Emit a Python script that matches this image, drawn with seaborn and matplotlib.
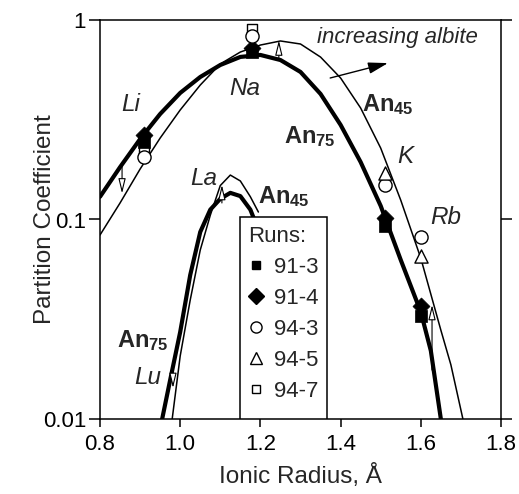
import matplotlib
matplotlib.use('Agg')
import matplotlib.pyplot as plt
import seaborn as sns
import pandas as pd
from matplotlib.lines import Line2D
from matplotlib.patches import Rectangle
from matplotlib.ticker import NullLocator, FixedLocator, FixedFormatter

# ---------------- data ----------------
# fitted lattice-strain curves (monovalent and trivalent), An75 thick, An45 thin
r_mono_75 = [0.80, 0.85, 0.90, 0.95, 1.00, 1.05, 1.10, 1.15, 1.20, 1.25, 1.30, 1.35,
             1.40, 1.45, 1.50, 1.55, 1.60, 1.625, 1.65]
d_mono_75 = [0.130, 0.183, 0.253, 0.338, 0.431, 0.518, 0.595, 0.653, 0.668, 0.630, 0.549,
             0.426, 0.298, 0.194, 0.117, 0.0627, 0.0344, 0.022, 0.0100]
r_mono_45 = [0.80, 0.85, 0.90, 0.95, 1.00, 1.05, 1.10, 1.15, 1.20, 1.25, 1.30, 1.35,
             1.40, 1.45, 1.50, 1.55, 1.60, 1.65, 1.675, 1.705]
d_mono_45 = [0.0836, 0.121, 0.179, 0.256, 0.354, 0.472, 0.602, 0.691, 0.749, 0.785, 0.758,
             0.652, 0.512, 0.362, 0.228, 0.125, 0.064, 0.0279, 0.0187, 0.0100]
r_tri_75 = [0.955, 0.975, 1.00, 1.025, 1.05, 1.075, 1.10, 1.125, 1.15, 1.175, 1.19]
d_tri_75 = [0.0100, 0.0157, 0.0273, 0.0527, 0.0866, 0.112, 0.127, 0.136, 0.131, 0.112, 0.094]
r_tri_45 = [0.98, 1.00, 1.025, 1.05, 1.075, 1.10, 1.125, 1.15, 1.175, 1.195]
d_tri_45 = [0.0100, 0.0207, 0.0395, 0.0703, 0.105, 0.148, 0.167, 0.156, 0.130, 0.109]

# measured partition coefficients per run (ions Li, Na, K, Rb)
r_91_3 = [0.91, 1.18, 1.51, 1.60]
d_91_3 = [0.245, 0.69, 0.093, 0.033]
r_91_4 = [0.91, 1.18, 1.51, 1.60]
d_91_4 = [0.265, 0.72, 0.102, 0.037]
r_94_3 = [0.91, 1.18, 1.51, 1.60]
d_94_3 = [0.206, 0.83, 0.149, 0.082]
r_94_5 = [1.51, 1.60]
d_94_5 = [0.171, 0.066]
r_94_7 = [0.91, 1.18]
d_94_7 = [0.223, 0.90]

# "increasing albite" shift arrows: (x, from, to)
shift_x = [0.855, 1.246, 1.104, 0.982, 1.628]
shift_from = [0.188, 0.630, 0.121, 0.0191, 0.0176]
shift_to = [0.135, 0.790, 0.149, 0.0143, 0.0373]

element_labels = ['Li', 'Na', 'La', 'K', 'Rb', 'Lu']
element_x = [0.877, 1.162, 1.059, 1.561, 1.663, 0.920]
element_y = [0.375, 0.456, 0.161, 0.208, 0.102, 0.0161]

comp_labels = ['45', '75', '45', '75']
comp_x = [1.518, 1.324, 1.259, 0.907]
comp_y = [0.379, 0.259, 0.130, 0.0246]

xticks = [0.8, 1.0, 1.2, 1.4, 1.6, 1.8]
xtick_labels = ['0.8', '1.0', '1.2', '1.4', '1.6', '1.8']
yticks = [0.01, 0.1, 1]
ytick_labels = ['0.01', '0.1', '1']

# ---------------- styling ----------------
sns.set_style('ticks')
plt.rcParams['font.family'] = ['Liberation Sans', 'DejaVu Sans']
plt.rcParams['mathtext.fontset'] = 'custom'
plt.rcParams['mathtext.rm'] = 'Liberation Sans'
plt.rcParams['mathtext.bf'] = 'Liberation Sans:bold'
plt.rcParams['mathtext.it'] = 'Liberation Sans:italic'

fig = plt.figure(figsize=(5.19, 4.94), dpi=100)
ax = fig.add_axes([100 / 519, 75 / 494, 401 / 519, 399 / 494])

curves = [(r_mono_75, d_mono_75, 3.0), (r_mono_45, d_mono_45, 1.1),
          (r_tri_75, d_tri_75, 3.0), (r_tri_45, d_tri_45, 1.1)]
for rr, dd, lw in curves:
    df = pd.DataFrame({'r': rr, 'd': dd})
    sns.lineplot(data=df, x='r', y='d', ax=ax, color='black', linewidth=lw,
                 estimator=None, sort=False, zorder=2)

ax.set_yscale('log')

# shift arrows
for xx, y0, y1 in zip(shift_x, shift_from, shift_to):
    ax.annotate('', xy=(xx, y1), xytext=(xx, y0),
                arrowprops=dict(arrowstyle='-|>,head_length=0.9,head_width=0.22',
                                fc='white', ec='black', lw=0.8, shrinkA=0, shrinkB=0),
                zorder=3)

# increasing albite arrow
ax.annotate('', xy=(1.518, 0.608), xytext=(1.374, 0.512),
            arrowprops=dict(arrowstyle='-|>,head_length=1.2,head_width=0.35',
                            fc='black', ec='black', lw=1.0, shrinkA=0, shrinkB=0),
            zorder=3)
ax.text(1.541, 0.813, 'increasing albite', fontsize=16, style='italic',
        ha='center', va='center')

# data points
ms = 90
sns.scatterplot(x=r_94_7, y=d_94_7, ax=ax, marker='s', s=60, facecolor='white',
                edgecolor='black', linewidth=1.0, zorder=4)
sns.scatterplot(x=r_91_3, y=d_91_3, ax=ax, marker='s', s=70, color='black',
                edgecolor='black', linewidth=0.5, zorder=4)
sns.scatterplot(x=r_91_4, y=d_91_4, ax=ax, marker='D', s=75, color='black',
                edgecolor='black', linewidth=0.5, zorder=4)
sns.scatterplot(x=r_94_3, y=d_94_3, ax=ax, marker='o', s=ms, facecolor='white',
                edgecolor='black', linewidth=1.0, zorder=5)
sns.scatterplot(x=r_94_5, y=d_94_5, ax=ax, marker='^', s=ms, facecolor='white',
                edgecolor='black', linewidth=1.0, zorder=5)

# element labels
for t, xx, yy in zip(element_labels, element_x, element_y):
    ax.text(xx, yy, t, fontsize=17.5, style='italic', ha='center', va='center')
for t, xx, yy in zip(comp_labels, comp_x, comp_y):
    ax.text(xx, yy, r'$\mathbf{An}_{\mathbf{%s}}$' % t, fontsize=17,
            ha='center', va='center')

# legend box and legend
ax.add_patch(Rectangle((0.349, 0.0), 0.217, 0.506, transform=ax.transAxes,
                       facecolor='white', edgecolor='black', lw=1.1, zorder=6))
handles = [
    Line2D([], [], ls='none', marker='s', ms=6, mfc='black', mec='black'),
    Line2D([], [], ls='none', marker='D', ms=8, mfc='black', mec='black'),
    Line2D([], [], ls='none', marker='o', ms=8, mfc='white', mec='black', mew=1.0),
    Line2D([], [], ls='none', marker='^', ms=9, mfc='white', mec='black', mew=1.0),
    Line2D([], [], ls='none', marker='s', ms=6, mfc='white', mec='black', mew=1.0),
]
leg = ax.legend(handles, ['91-3', '91-4', '94-3', '94-5', '94-7'], title='Runs:',
                loc='upper left', bbox_to_anchor=(0.352, 0.500), frameon=False,
                fontsize=16, title_fontsize=16, handlelength=0.7, handletextpad=0.5,
                labelspacing=0.45, borderpad=0.3, borderaxespad=0, alignment='left')
leg.set_zorder(7)

# axes
ax.set_xlim(0.8, 1.8)
ax.set_ylim(0.01, 1)
ax.xaxis.set_major_locator(FixedLocator(xticks))
ax.xaxis.set_major_formatter(FixedFormatter(xtick_labels))
ax.yaxis.set_major_locator(FixedLocator(yticks))
ax.yaxis.set_major_formatter(FixedFormatter(ytick_labels))
ax.yaxis.set_minor_locator(NullLocator())
ax.xaxis.set_minor_locator(NullLocator())
ax.tick_params(axis='x', direction='out', length=6, width=1.1, labelsize=16, pad=5,
               colors='black')
ax.tick_params(axis='y', direction='out', length=8, width=1.1, labelsize=16, pad=2,
               right=True, labelright=False, colors='black')
for sp in ax.spines.values():
    sp.set_visible(True)
    sp.set_linewidth(1.1)
    sp.set_color('black')
ax.set_xlabel('Ionic Radius, Å', fontsize=17.5, labelpad=6)
ax.set_ylabel('Partition Coefficient', fontsize=17.5)
ax.yaxis.set_label_coords(-0.11, 0.5)

fig.savefig('out.png', dpi=100)
